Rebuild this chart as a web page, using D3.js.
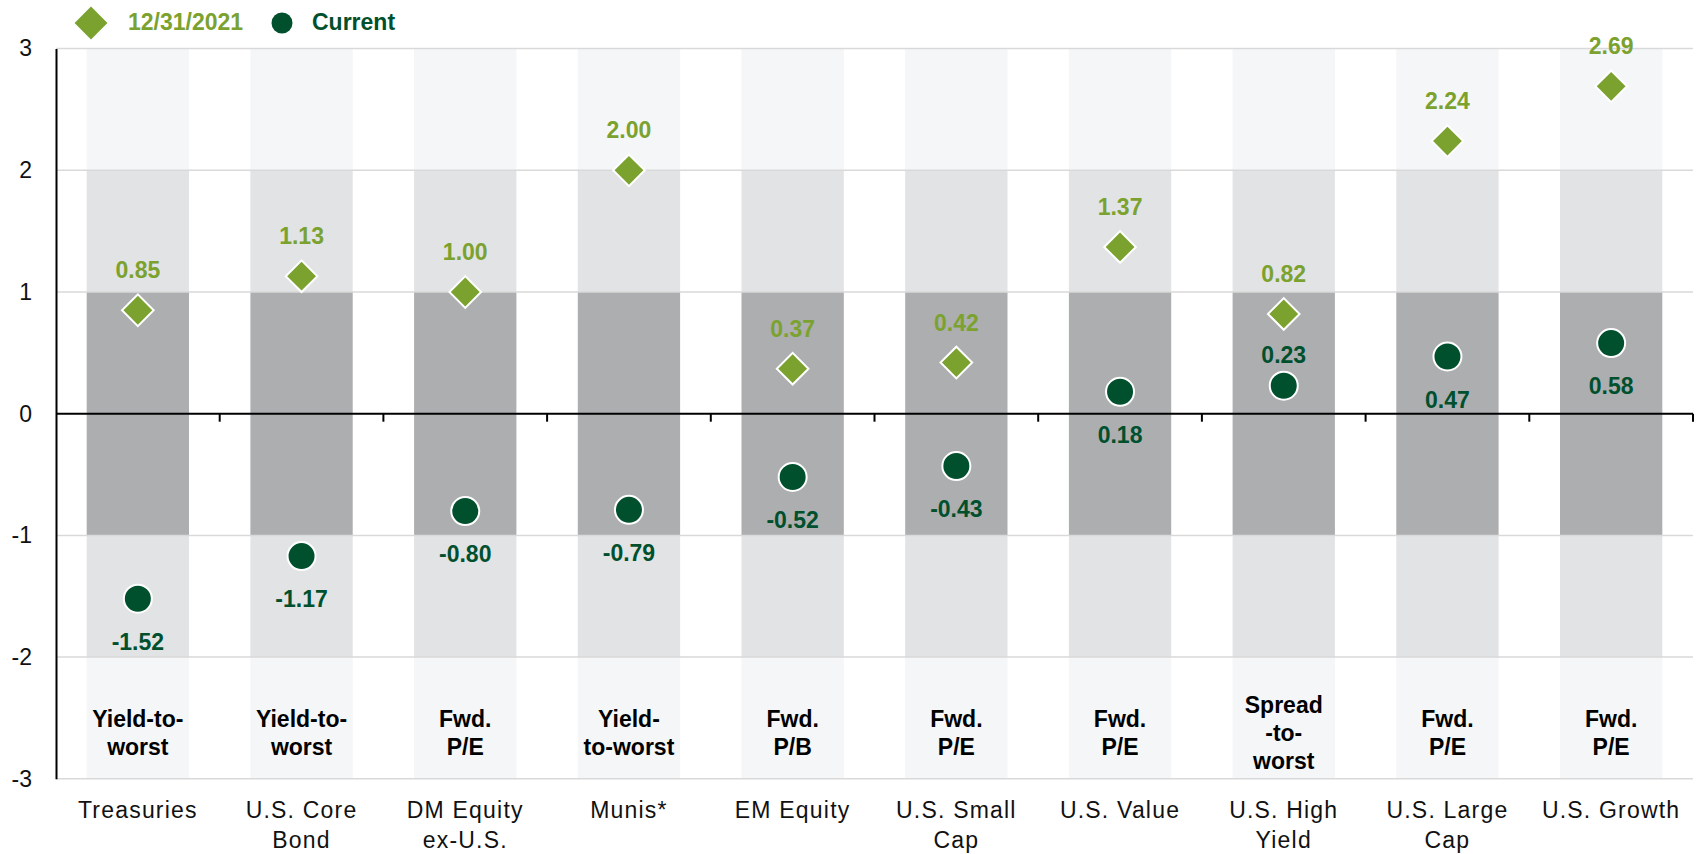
<!DOCTYPE html>
<html>
<head>
<meta charset="utf-8">
<script src="https://cdn.jsdelivr.net/npm/d3@7/dist/d3.min.js"></script>
<style>
  html, body { margin: 0; padding: 0; background: #fff; }
  svg { display: block; font-family: "Liberation Sans", Arial, sans-serif; }
</style>
</head>
<body>
<svg id="chart" width="1697" height="854"></svg>
<script>
(function(d3) {
  'use strict';

  var categories = ['Treasuries', 'U.S. Core\nBond', 'DM Equity\nex-U.S.', 'Munis*', 'EM Equity',
    'U.S. Small\nCap', 'U.S. Value', 'U.S. High\nYield', 'U.S. Large\nCap', 'U.S. Growth'];
  var metrics = ['Yield-to-\nworst', 'Yield-to-\nworst', 'Fwd.\nP/E', 'Yield-\nto-worst', 'Fwd.\nP/B',
    'Fwd.\nP/E', 'Fwd.\nP/E', 'Spread\n-to-\nworst', 'Fwd.\nP/E', 'Fwd.\nP/E'];
  var prior = [0.85, 1.13, 1.00, 2.00, 0.37, 0.42, 1.37, 0.82, 2.24, 2.69];
  var current = [-1.52, -1.17, -0.80, -0.79, -0.52, -0.43, 0.18, 0.23, 0.47, 0.58];
  var yTicks = [3, 2, 1, 0, -1, -2, -3];
  var seriesNames = ['12/31/2021', 'Current'];
  // current-value labels that sit above the dot instead of below
  var labelAbove = ['U.S. High\nYield'];

  var colors = {
    light: '#f5f6f8',
    mid: '#e2e3e5',
    dark: '#adaeb0',
    grid: '#d9d9d9',
    green: '#7ba22f',
    darkGreen: '#00502e'
  };
  // shading zones behind each category (in axis units)
  var zones = [
    { from: 2, to: 3, fill: 'light' },
    { from: 1, to: 2, fill: 'mid' },
    { from: -1, to: 1, fill: 'dark' },
    { from: -2, to: -1, fill: 'mid' },
    { from: -3, to: -2, fill: 'light' }
  ];

  var left = 56, right = 1693, top = 48.6, bottom = 778.8;
  var svg = d3.select('#chart');

  var x = d3.scaleBand().domain(categories).range([left, right]);
  var bandW = x.step() * 0.625;
  var y = d3.scaleLinear().domain([-3, 3]).range([bottom, top]);
  var cx = function(c) { return x(c) + x.step() / 2; };

  // shaded bands
  var cols = svg.append('g').selectAll('g').data(categories).enter().append('g');
  cols.selectAll('rect').data(function(c) {
    return zones.map(function(z) { return { c: c, z: z }; });
  }).enter().append('rect')
    .attr('x', function(d) { return cx(d.c) - bandW / 2; })
    .attr('y', function(d) { return y(d.z.to); })
    .attr('width', bandW)
    .attr('height', function(d) { return y(d.z.from) - y(d.z.to); })
    .attr('fill', function(d) { return colors[d.z.fill]; });

  // gridlines
  svg.append('g').selectAll('line').data(yTicks.filter(function(t) { return t !== 0; }))
    .enter().append('line')
    .attr('x1', left).attr('x2', right)
    .attr('y1', function(d) { return y(d); }).attr('y2', function(d) { return y(d); })
    .attr('stroke', colors.grid).attr('stroke-width', 1.5);

  // y axis
  var yAxis = svg.append('g')
    .attr('transform', 'translate(' + left + ',0)')
    .call(d3.axisLeft(y).tickValues(yTicks).tickSize(0).tickPadding(24)
      .tickFormat(function(d) { return String(d); }));
  yAxis.select('.domain').attr('stroke', '#000').attr('stroke-width', 2);
  yAxis.selectAll('text')
    .attr('font-size', 23)
    .attr('font-family', '"Liberation Sans", Arial, sans-serif')
    .attr('fill', '#111');

  // zero line with category boundary ticks
  var zero = svg.append('g');
  zero.append('line')
    .attr('x1', left).attr('x2', right)
    .attr('y1', y(0)).attr('y2', y(0))
    .attr('stroke', '#000').attr('stroke-width', 2);
  zero.selectAll('.tick').data(categories).enter().append('line')
    .attr('x1', function(c) { return x(c) + x.step(); })
    .attr('x2', function(c) { return x(c) + x.step(); })
    .attr('y1', y(0)).attr('y2', y(0) + 8)
    .attr('stroke', '#000').attr('stroke-width', 2);

  // metric labels inside the bottom band
  var lineH = 28;
  svg.append('g').selectAll('text').data(categories).enter().append('text')
    .attr('text-anchor', 'middle')
    .attr('font-size', 23)
    .attr('font-weight', 'bold')
    .attr('fill', '#000')
    .each(function(c, i) {
      var lines = metrics[i].split('\n');
      var base = 741 - (lines.length - 1) * lineH / 2;
      d3.select(this).selectAll('tspan').data(lines).enter().append('tspan')
        .attr('x', cx(c))
        .attr('y', function(l, j) { return base + j * lineH; })
        .text(function(l) { return l; });
    });

  // category labels
  svg.append('g').selectAll('text').data(categories).enter().append('text')
    .attr('text-anchor', 'middle')
    .attr('font-size', 23)
    .attr('letter-spacing', 1.2)
    .attr('fill', '#111')
    .each(function(c) {
      d3.select(this).selectAll('tspan').data(c.split('\n')).enter().append('tspan')
        .attr('x', cx(c))
        .attr('y', function(l, j) { return 818 + j * 30; })
        .text(function(l) { return l; });
    });

  var diamond = d3.symbol().type(d3.symbolSquare).size(500);

  // 12/31/2021 diamonds
  var g1 = svg.append('g').selectAll('g').data(categories).enter().append('g');
  g1.append('path')
    .attr('d', diamond)
    .attr('transform', function(c, i) {
      return 'translate(' + cx(c) + ',' + y(prior[i]) + ') rotate(45)';
    })
    .attr('fill', colors.green)
    .attr('stroke', '#fff').attr('stroke-width', 2);
  g1.append('text')
    .attr('x', cx)
    .attr('y', function(c, i) { return y(prior[i]) - 32; })
    .attr('text-anchor', 'middle')
    .attr('font-size', 23).attr('font-weight', 'bold')
    .attr('fill', colors.green)
    .text(function(c, i) { return prior[i].toFixed(2); });

  // current circles
  var g2 = svg.append('g').selectAll('g').data(categories).enter().append('g');
  g2.append('circle')
    .attr('cx', cx)
    .attr('cy', function(c, i) { return y(current[i]); })
    .attr('r', 14)
    .attr('fill', colors.darkGreen)
    .attr('stroke', '#fff').attr('stroke-width', 2);
  g2.append('text')
    .attr('x', cx)
    .attr('y', function(c, i) {
      return labelAbove.indexOf(c) >= 0 ? y(current[i]) - 23 : y(current[i]) + 51;
    })
    .attr('text-anchor', 'middle')
    .attr('font-size', 23).attr('font-weight', 'bold')
    .attr('fill', colors.darkGreen)
    .text(function(c, i) { return current[i].toFixed(2); });

  // legend
  var legend = svg.append('g');
  legend.append('path')
    .attr('d', d3.symbol().type(d3.symbolSquare).size(540))
    .attr('transform', 'translate(91,23) rotate(45)')
    .attr('fill', colors.green);
  legend.append('text')
    .attr('x', 128).attr('y', 30)
    .attr('font-size', 23).attr('font-weight', 'bold')
    .attr('fill', colors.green)
    .text(seriesNames[0]);
  legend.append('circle')
    .attr('cx', 282).attr('cy', 23).attr('r', 10.5)
    .attr('fill', colors.darkGreen);
  legend.append('text')
    .attr('x', 312).attr('y', 30)
    .attr('font-size', 23).attr('font-weight', 'bold')
    .attr('fill', colors.darkGreen)
    .text(seriesNames[1]);
}(d3));
</script>
</body>
</html>
